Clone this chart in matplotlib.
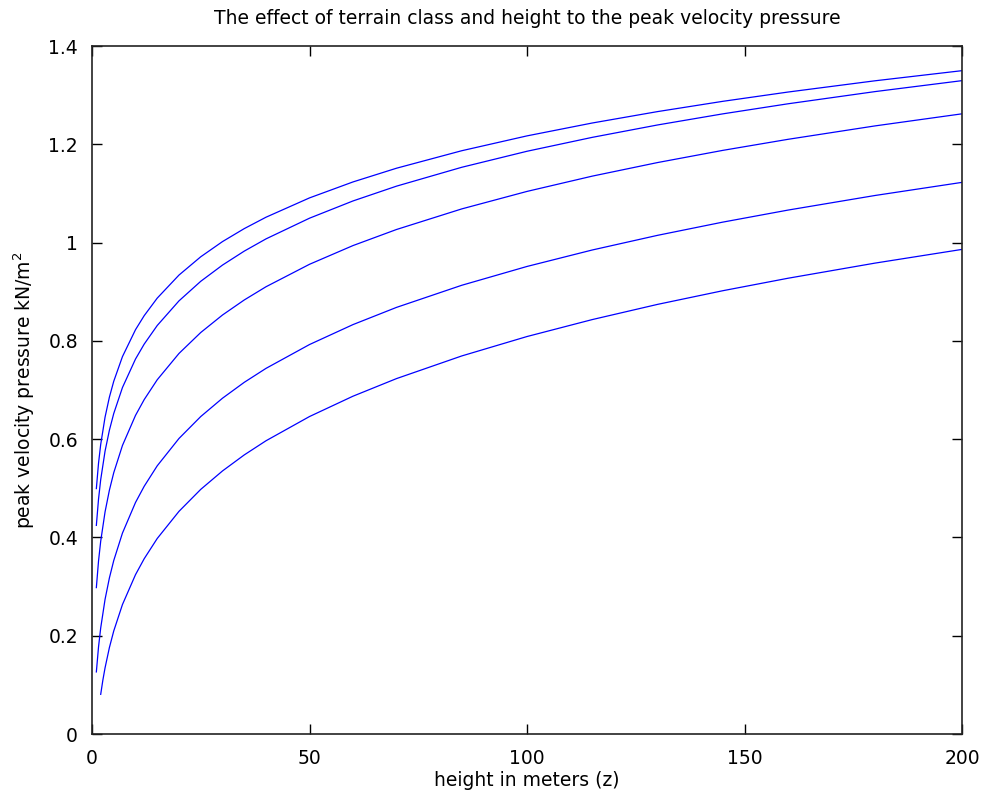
import matplotlib
matplotlib.use("Agg")
import matplotlib.pyplot as plt
from matplotlib.ticker import FuncFormatter

heights = [1, 1.5, 2, 3, 4, 5, 7, 10, 12, 15, 20, 25, 30, 35, 40, 50, 60, 70, 85, 100,
           115, 130, 145, 160, 180, 200]
heights_iv = [2, 2.5, 3, 4, 5, 7, 10, 12, 15, 20, 25, 30, 35, 40, 50, 60, 70, 85, 100,
              115, 130, 145, 160, 180, 200]

terrain_0 = [0.4994, 0.5511, 0.5892, 0.6447, 0.6855, 0.7178, 0.7679, 0.8227, 0.8513, 0.8870,
             0.9339, 0.9711, 1.0020, 1.0284, 1.0516, 1.0909, 1.1234, 1.1513, 1.1869, 1.2171,
             1.2433, 1.2665, 1.2874, 1.3063, 1.3292, 1.3498]
terrain_1 = [0.4245, 0.4780, 0.5175, 0.5755, 0.6182, 0.6522, 0.7050, 0.7630, 0.7934, 0.8313,
             0.8814, 0.9212, 0.9542, 0.9826, 1.0075, 1.0496, 1.0847, 1.1148, 1.1532, 1.1858,
             1.2141, 1.2393, 1.2619, 1.2824, 1.3072, 1.3295]
terrain_2 = [0.2979, 0.3520, 0.3923, 0.4519, 0.4962, 0.5317, 0.5871, 0.6483, 0.6805, 0.7209,
             0.7744, 0.8170, 0.8526, 0.8832, 0.9101, 0.9558, 0.9939, 1.0266, 1.0685, 1.1041,
             1.1352, 1.1628, 1.1876, 1.2101, 1.2374, 1.2620]
terrain_3 = [0.1263, 0.1772, 0.2158, 0.2739, 0.3176, 0.3530, 0.4088, 0.4711, 0.5041, 0.5458,
             0.6014, 0.6460, 0.6833, 0.7156, 0.7440, 0.7925, 0.8331, 0.8681, 0.9131, 0.9514,
             0.9849, 1.0147, 1.0416, 1.0661, 1.0958, 1.1225]
terrain_4 = [0.0807, 0.1098, 0.1346, 0.1759, 0.2097, 0.2634, 0.3242, 0.3567, 0.3979,
             0.4531, 0.4978, 0.5353, 0.5679, 0.5967, 0.6460, 0.6874, 0.7232, 0.7693, 0.8088,
             0.8433, 0.8742, 0.9020, 0.9274, 0.9582, 0.9861]

x_ticks = [0, 50, 100, 150, 200]
y_ticks = [0, 0.2, 0.4, 0.6, 0.8, 1.0, 1.2, 1.4]

FS = 13.5

fig = plt.figure(figsize=(9.89, 7.96), dpi=100)
ax = fig.add_axes([92 / 989, 62 / 796, 870 / 989, 688 / 796])

for hs, vals in [(heights, terrain_0), (heights, terrain_1), (heights, terrain_2),
                 (heights, terrain_3), (heights_iv, terrain_4)]:
    ax.plot(hs, vals, color="#0000ff", linewidth=0.9)

ax.set_xlim(0, 200)
ax.set_ylim(0, 1.4)
ax.set_xticks(x_ticks)
ax.set_yticks(y_ticks)
fmt = FuncFormatter(lambda v, p: "%g" % round(v, 6))
ax.xaxis.set_major_formatter(fmt)
ax.yaxis.set_major_formatter(fmt)
ax.tick_params(direction="in", length=7, width=1, top=True, right=True,
               labelsize=FS, colors="black")
ax.tick_params(axis="x", pad=11)
ax.tick_params(axis="y", pad=10)
for s in ax.spines.values():
    s.set_linewidth(1.2)
    s.set_color("#222222")

ax.set_xlabel("height in meters (z)", fontsize=FS, labelpad=2)
ax.set_ylabel("peak velocity pressure kN/m$^2$", fontsize=FS, labelpad=8)
ax.set_title("The effect of terrain class and height to the peak velocity pressure",
             fontsize=FS, pad=16)

fig.savefig("out.png", dpi=100)
